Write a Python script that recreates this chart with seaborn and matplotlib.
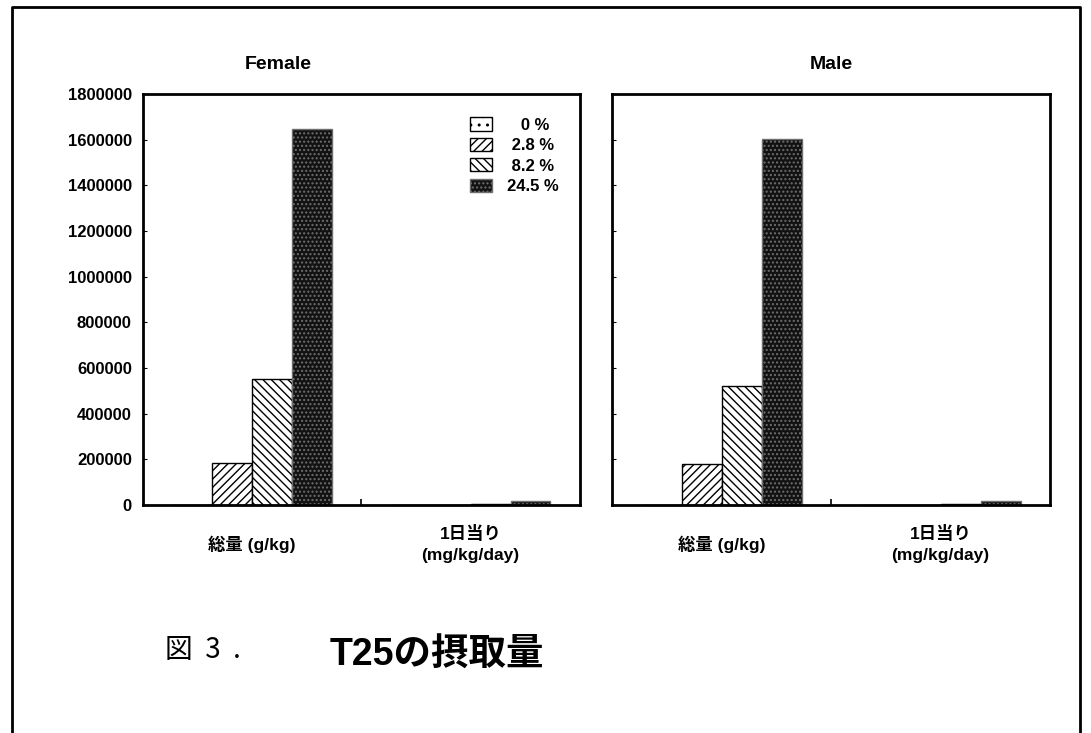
import pandas as pd
import seaborn as sns
import matplotlib.pyplot as plt
from matplotlib.lines import Line2D
from matplotlib.ticker import StrMethodFormatter

# donnees
categories = ["総量 (g/kg)", "1日当り\n(mg/kg/day)"]
doses = ["0 %", "2.8 %", "8.2 %", "24.5 %"]
female_total = [0, 184000, 553000, 1645000]
female_daily = [0, 1700, 5000, 16000]
male_total = [0, 180000, 522000, 1605000]
male_daily = [0, 1600, 4800, 15500]

rows = []
for sex, tot, day in [("Female", female_total, female_daily), ("Male", male_total, male_daily)]:
    for d, t, v in zip(doses, tot, day):
        rows.append({"sex": sex, "cat": categories[0], "dose": d, "value": t})
        rows.append({"sex": sex, "cat": categories[1], "dose": d, "value": v})
df = pd.DataFrame(rows)

sns.set_style("white")
plt.rcParams["font.family"] = ["Liberation Sans", "Noto Sans CJK JP"]
plt.rcParams["font.weight"] = "bold"
plt.rcParams["text.color"] = "black"
plt.rcParams["xtick.color"] = "black"
plt.rcParams["ytick.color"] = "black"

fig = plt.figure(figsize=(10.91, 7.33), dpi=100)
ax1 = fig.add_axes([0.131, 0.311, 0.4005, 0.5607])
ax2 = fig.add_axes([0.561, 0.311, 0.4015, 0.5607], sharey=ax1)

hatches = ["..", "////", "\\\\\\\\", "...."]
faces = ["white", "white", "white", "#121212"]
edges = ["black", "black", "black", "#6e6e6e"]

for ax, sex in [(ax1, "Female"), (ax2, "Male")]:
    sub = df[df["sex"] == sex]
    sns.barplot(data=sub, x="cat", y="value", hue="dose", hue_order=doses,
                order=categories, palette=["white"] * 4, width=0.73,
                errorbar=None, legend=False, ax=ax)
    for cont, h, fc, ec in zip(ax.containers, hatches, faces, edges):
        for p in cont.patches:
            p.set_facecolor(fc)
            p.set_edgecolor(ec)
            p.set_hatch(h)
            p.set_linewidth(1.0)
    ax.set_xlim(-0.5, 1.5)
    ax.set_ylim(0, 1800000)
    ax.set_yticks(range(0, 1800001, 200000))
    ax.yaxis.set_major_formatter(StrMethodFormatter("{x:.0f}"))
    ax.set_xlabel("")
    ax.set_ylabel("")
    ax.set_xticks([0, 1])
    ax.set_xticklabels(categories, fontsize=12.5, fontweight="bold",
                       linespacing=1.45, va="center")
    ax.set_xticks([0.5], minor=True)
    ax.tick_params(axis="x", which="major", length=0, pad=28)
    ax.tick_params(axis="x", which="minor", direction="in", length=4, width=1.2, bottom=True)
    ax.tick_params(axis="y", direction="in", length=3, left=True, labelsize=12, pad=8)
    for s in ax.spines.values():
        s.set_color("black")
        s.set_linewidth(2)

ax1.set_title("Female", fontsize=14, fontweight="bold", pad=18, x=0.31)
ax2.set_title("Male", fontsize=14, fontweight="bold", pad=18)
ax2.tick_params(axis="y", labelleft=False)
for t in ax1.get_yticklabels():
    t.set_fontweight("bold")

legend_labels = ["\u2007 0 %", " 2.8 %", " 8.2 %", "24.5 %"]
ax1.legend(ax1.containers, legend_labels, loc="upper right", frameon=False,
           bbox_to_anchor=(0.985, 0.98), handlelength=1.3, handleheight=0.85,
           handletextpad=0.9, labelspacing=0.3,
           prop={"weight": "bold", "size": 12})

# cadre exterieur
fig.add_artist(Line2D([0.011, 0.011, 0.99, 0.99], [0.0, 0.99, 0.99, 0.0],
                      transform=fig.transFigure, color="black", lw=2))

fig.text(0.151, 0.113, "図  3  .", fontsize=20, fontweight="normal",
         family=["Noto Sans CJK JP", "DejaVu Sans"], va="center")
fig.text(0.40, 0.105, "T25の摂取量", fontsize=27, fontweight="bold",
         family=["Liberation Sans", "Noto Sans CJK JP"], va="center", ha="center")

fig.savefig("out.png", dpi=100)
